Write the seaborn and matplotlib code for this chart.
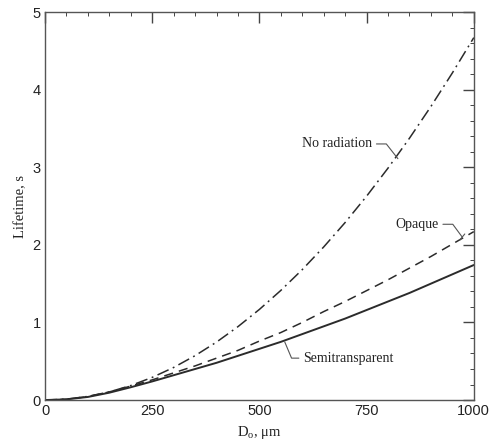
import matplotlib
matplotlib.use("Agg")
import matplotlib.pyplot as plt
from matplotlib.ticker import MultipleLocator
import seaborn as sns
import pandas as pd

# Data
diameter_um = [0, 50, 100, 150, 200, 250, 300, 350, 400, 450, 500,
               550, 600, 650, 700, 750, 800, 850, 900, 950, 1000]
no_radiation = [0, 0.012, 0.047, 0.105, 0.187, 0.292, 0.420, 0.572, 0.747, 0.946, 1.168,
                1.413, 1.681, 1.973, 2.288, 2.627, 2.989, 3.374, 3.783, 4.215, 4.67]
opaque = [0, 0.01, 0.045, 0.105, 0.18, 0.26, 0.35, 0.44, 0.54, 0.64, 0.76,
          0.87, 1.00, 1.14, 1.27, 1.41, 1.55, 1.70, 1.85, 2.01, 2.17]
semitransparent = [0, 0.009, 0.04, 0.095, 0.165, 0.24, 0.32, 0.40, 0.48, 0.57, 0.66,
                   0.75, 0.85, 0.95, 1.05, 1.16, 1.27, 1.38, 1.50, 1.62, 1.74]
x_ticks = [0, 250, 500, 750, 1000]
y_ticks = [0, 1, 2, 3, 4, 5]

sns.set_theme(style="white")
plt.rcParams["font.family"] = ["Liberation Sans", "DejaVu Sans"]
plt.rcParams["mathtext.fontset"] = "custom"
plt.rcParams["mathtext.rm"] = "Liberation Serif"
plt.rcParams["mathtext.it"] = "Liberation Serif:italic"

df = pd.DataFrame({"D": diameter_um, "No radiation": no_radiation,
                   "Opaque": opaque, "Semitransparent": semitransparent})

fig = plt.figure(figsize=(4.92, 4.45), dpi=100)
ax = fig.add_axes([0.0915, 0.101, 0.8715, 0.872])

line_col = "#2b2b2b"
sns.lineplot(data=df, x="D", y="No radiation", ax=ax, color=line_col, lw=1.1,
             linestyle=(0, (8, 3, 1.2, 3)))
sns.lineplot(data=df, x="D", y="Opaque", ax=ax, color=line_col, lw=1.1,
             linestyle=(0, (6, 4)))
sns.lineplot(data=df, x="D", y="Semitransparent", ax=ax, color=line_col, lw=1.4)

ax.set_xlim(0, 1000)
ax.set_ylim(0, 5)
ax.set_xticks(x_ticks)
ax.set_yticks(y_ticks)
ax.xaxis.set_minor_locator(MultipleLocator(50))
ax.yaxis.set_minor_locator(MultipleLocator(0.2))
ax.tick_params(which="both", direction="in", top=True, right=True,
               colors="#444444", labelcolor="#222222")
ax.tick_params(which="major", length=8, width=1.0, labelsize=10.5, pad=3)
ax.tick_params(which="minor", length=3, width=0.7)
for s in ax.spines.values():
    s.set_color("#555555")
    s.set_linewidth(1.0)

serif = ["Liberation Serif", "DejaVu Serif"]
ax.set_xlabel("D$_{\\mathrm{o}}$, \u03bcm", family=serif, fontsize=10.5, color="#222222", labelpad=4)
ax.set_ylabel("Lifetime, s", family=serif, fontsize=10.5, color="#222222", labelpad=4)

lead = "#555555"
# annotations with leader lines
ax.text(762, 3.31, "No radiation", family=serif, fontsize=10, ha="right", va="center", color="#222222")
ax.plot([773, 796, 823], [3.30, 3.30, 3.11], color=lead, lw=0.8)

ax.text(919, 2.265, "Opaque", family=serif, fontsize=10, ha="right", va="center", color="#222222")
ax.plot([928, 951, 973], [2.265, 2.265, 2.10], color=lead, lw=0.8)
ax.plot([967, 979], [2.06, 2.14], color=lead, lw=0.8)

ax.text(601, 0.54, "Semitransparent", family=serif, fontsize=10, ha="left", va="center", color="#222222")
ax.plot([559, 575, 592], [0.75, 0.54, 0.54], color=lead, lw=0.8)

ax.grid(False)
fig.savefig("out.png", dpi=100)
